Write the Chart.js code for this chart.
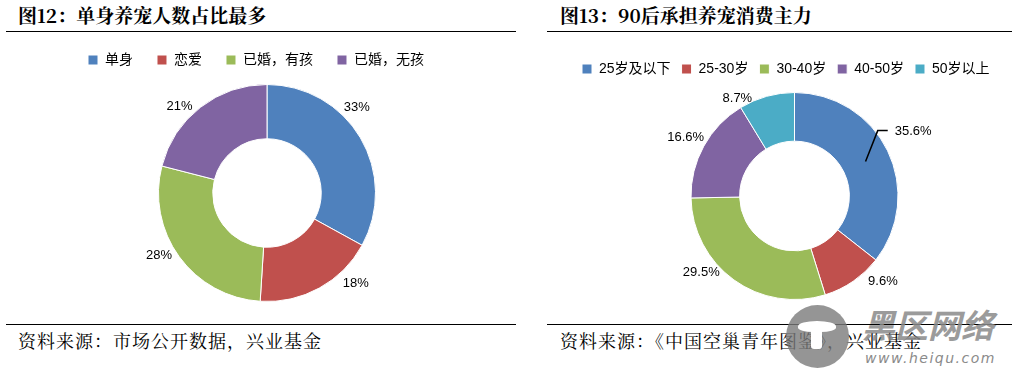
<!DOCTYPE html>
<html>
<head>
<meta charset="utf-8">
<script src="https://cdn.jsdelivr.net/npm/chart.js@4.4.0/dist/chart.umd.min.js"></script>
<style>
html, body { margin: 0; padding: 0; background: #fff; overflow: hidden; }
body { width: 1020px; height: 374px; position: relative; font-family: "Noto Sans CJK SC", sans-serif; color: #000; }
.title { position: absolute; top: 5px; font: bold 19px/19px "Noto Serif CJK SC", "Noto Sans CJK SC", serif; white-space: nowrap; }
.rule { position: absolute; height: 1px; background: #000; }
.source { position: absolute; top: 331px; font: 18px/18px "Noto Serif CJK SC", "Noto Sans CJK SC", serif; letter-spacing: 1px; white-space: nowrap; }
canvas { position: absolute; }
.wm-circle { position: absolute; left: 786px; top: 305px; width: 63px; height: 63px; border-radius: 50%; background: #7a7a7a; opacity: 0.8; }
.wm-cup { position: absolute; left: 798px; top: 321px; width: 38px; height: 11px; border-radius: 50% 50% 40% 40%; background: #fff; }
.wm-stem { position: absolute; left: 811px; top: 329px; width: 11px; height: 20px; border-radius: 3px; background: #fff; }
.wm-text { position: absolute; left: 862px; top: 306px; font: italic bold 33px/36px "Noto Sans CJK SC", sans-serif; color: #8a8a8a; opacity: 0.85; white-space: nowrap; }
.wm-url { position: absolute; left: 865px; top: 351px; font: italic 14px/14px "DejaVu Sans", sans-serif; color: #8a8a8a; letter-spacing: 1.5px; white-space: nowrap; }
</style>
</head>
<body>
<div class="title" style="left:18px">图12：单身养宠人数占比最多</div>
<div class="rule" style="left:6px;top:31px;width:510px"></div>
<div class="title" style="left:560px">图13：90后承担养宠消费主力</div>
<div class="rule" style="left:547px;top:31px;width:465px"></div>

<canvas id="graficoSolteiros" width="406" height="273" style="left:64px;top:29px"></canvas>
<canvas id="graficoIdades" width="447" height="249" style="left:571px;top:51px"></canvas>

<div class="rule" style="left:6px;top:324px;width:510px"></div>
<div class="source" style="left:18px">资料来源：市场公开数据，兴业基金</div>
<div class="rule" style="left:547px;top:324px;width:465px"></div>
<div class="source" style="left:560px">资料来源：《中国空巢青年图鉴》，兴业基金</div>

<div class="wm-circle"></div>
<div class="wm-cup"></div>
<div class="wm-stem"></div>
<div class="wm-text">黑区网络</div>
<div class="wm-url">www.heiqu.com</div>

<script>
// dados
const categoriasEstado = ["单身", "恋爱", "已婚，有孩", "已婚，无孩"];
const valoresEstado = [33, 18, 28, 21];

const categoriasIdade = ["25岁及以下", "25-30岁", "30-40岁", "40-50岁", "50岁以上"];
const valoresIdade = [35.6, 9.6, 29.5, 16.6, 8.7];

const coresExcel = ["#4F81BD", "#C0504D", "#9BBB59", "#8064A2", "#4BACC6"];

// espaço extra abaixo da legenda
const espacoLegenda = {
    id: "espacoLegenda",
    beforeInit(chart, args, opts) {
        const fitOriginal = chart.legend.fit;
        chart.legend.fit = function fit() {
            fitOriginal.bind(chart.legend)();
            this.height += opts.extra || 0;
        };
    }
};

// rótulos fora do anel (posição ao longo da fatia + distância)
const rotulosFatias = {
    id: "rotulosFatias",
    afterDatasetsDraw(chart, args, opts) {
        const ctx = chart.ctx;
        const meta = chart.getDatasetMeta(0);
        const valores = chart.data.datasets[0].data;
        ctx.save();
        ctx.font = '13px "Liberation Sans", Arial, sans-serif';
        ctx.fillStyle = "#000";
        ctx.strokeStyle = "#000";
        ctx.lineWidth = 1.5;
        ctx.textAlign = "center";
        ctx.textBaseline = "middle";
        meta.data.forEach((arc, i) => {
            const p = arc.getProps(["x", "y", "startAngle", "endAngle", "outerRadius"], true);
            const spot = opts.spots[i];
            const a = p.startAngle + spot.at * (p.endAngle - p.startAngle);
            const r = p.outerRadius + spot.gap;
            const lx = p.x + Math.cos(a) * r;
            const ly = p.y + Math.sin(a) * r;
            const texto = opts.format(valores[i]);
            ctx.fillText(texto, lx, ly);
            if (spot.leader) {
                const meio = ctx.measureText(texto).width / 2;
                const b = p.startAngle + spot.leader.at * (p.endAngle - p.startAngle);
                const lr = p.outerRadius - spot.leader.depth;
                ctx.beginPath();
                ctx.moveTo(p.x + Math.cos(b) * lr, p.y + Math.sin(b) * lr);
                ctx.lineTo(lx - meio - 17, ly - 1);
                ctx.lineTo(lx - meio - 7, ly - 1);
                ctx.stroke();
            }
        });
        ctx.restore();
    }
};

Chart.defaults.font.family = '"Liberation Sans", "Noto Sans CJK SC", sans-serif';
Chart.defaults.color = "#000";

function montarRosca(id, labels, valores, cutout, paddingLegenda, extraLegenda, spots, format) {
    const ctx = document.getElementById(id).getContext("2d");
    new Chart(ctx, {
        type: "doughnut",
        data: {
            labels: labels,
            datasets: [{
                data: valores,
                backgroundColor: coresExcel.slice(0, valores.length),
                borderColor: "#fff",
                borderWidth: 1
            }]
        },
        options: {
            responsive: false,
            animation: false,
            devicePixelRatio: 1,
            cutout: cutout,
            layout: { padding: 0 },
            plugins: {
                legend: {
                    position: "top",
                    align: "start",
                    labels: {
                        boxWidth: 10,
                        boxHeight: 10,
                        padding: paddingLegenda,
                        font: { size: 14 },
                        color: "#000"
                    }
                },
                tooltip: { enabled: false },
                espacoLegenda: { extra: extraLegenda },
                rotulosFatias: { spots: spots, format: format }
            }
        },
        plugins: [espacoLegenda, rotulosFatias]
    });
}

document.addEventListener("DOMContentLoaded", () => {
    montarRosca("graficoSolteiros", categoriasEstado, valoresEstado, "50%", 24, 7, [
        { at: 0.39, gap: 15.5 },
        { at: 0.26, gap: 18.5 },
        { at: 0.56, gap: 16 },
        { at: 0.40, gap: 14.5 }
    ], v => v + "%");

    montarRosca("graficoIdades", categoriasIdade, valoresIdade, "53%", 11, 6, [
        { at: 0.48, gap: 31.5, leader: { at: 0.50, depth: 24.5 } },
        { at: 0.17, gap: 19.5 },
        { at: 0.64, gap: 17 },
        { at: 0.49, gap: 20 },
        { at: 0.035, gap: 10 }
    ], v => v.toFixed(1) + "%");
});
</script>
</body>
</html>
